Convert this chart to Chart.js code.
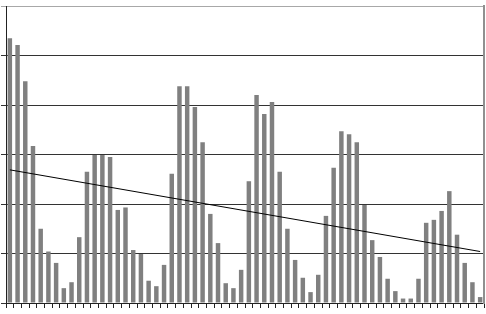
<!DOCTYPE html>
<html>
<head>
<meta charset="utf-8">
<script src="https://cdn.jsdelivr.net/npm/chart.js@4/dist/chart.umd.min.js"></script>
<style>
  html, body { margin: 0; padding: 0; background: #fff; }
  #chart { display: block; }
</style>
</head>
<body>
<canvas id="chart" width="486" height="314"></canvas>
<script>
// 62 periods, values (gridline step = 10)
const categories = [];
for (let i = 1; i <= 62; i++) categories.push(String(i));

const barValues = [
    53.5, 52.1, 44.8, 31.7, 15.0, 10.4, 8.1, 3.0, 4.2, 13.3,
    26.5, 29.9, 29.9, 29.5, 18.8, 19.3, 10.7, 9.9, 4.5, 3.4,
    7.7, 26.1, 43.8, 43.8, 39.6, 32.5, 18.0, 12.1, 4.0, 3.0,
    6.7, 24.6, 42.0, 38.2, 40.6, 26.5, 15.0, 8.7, 5.1, 2.2,
    5.7, 17.6, 27.3, 34.7, 34.1, 32.5, 19.8, 12.7, 9.3, 4.9,
    2.4, 0.9, 0.9, 4.9, 16.2, 16.8, 18.6, 22.6, 13.8, 8.1,
    4.2, 1.2
];

// trend line: only the two end points, the line spans between them
const trendValues = categories.map(() => null);
trendValues[0] = 26.9;
trendValues[61] = 10.4;

const yTicks = [0, 10, 20, 30, 40, 50, 60];

const ctx = document.getElementById('chart').getContext('2d');
new Chart(ctx, {
    type: 'bar',
    data: {
        labels: categories,
        datasets: [{
            type: 'line',
            data: trendValues,
            spanGaps: true,
            borderColor: '#000',
            borderWidth: 1,
            pointRadius: 0,
            fill: false,
            order: 0
        }, {
            data: barValues,
            backgroundColor: '#808080',
            borderWidth: 0,
            barPercentage: 0.58,
            categoryPercentage: 1,
            order: 1
        }]
    },
    options: {
        responsive: false,
        animation: false,
        layout: { padding: { left: 1, right: 2, top: 6, bottom: 6 } },
        plugins: { legend: { display: false }, tooltip: { enabled: false } },
        scales: {
            x: {
                offset: true,
                grid: { offset: true, drawOnChartArea: false, drawTicks: true, tickLength: 5, color: '#222' },
                border: { color: '#222', width: 1 },
                ticks: { display: false }
            },
            y: {
                min: yTicks[0],
                max: yTicks[yTicks.length - 1],
                afterBuildTicks: axis => { axis.ticks = yTicks.map(v => ({ value: v })); },
                grid: {
                    color: c => (c.tick && c.tick.value === 60 ? '#a8a8a8' : '#333'),
                    lineWidth: 1,
                    tickLength: 5
                },
                border: { color: '#222', width: 1 },
                ticks: { display: false }
            },
            y2: {
                position: 'right',
                min: 0,
                max: 60,
                grid: { drawOnChartArea: false, drawTicks: false },
                border: { color: '#909090', width: 2 },
                ticks: { display: false }
            }
        }
    }
});
</script>
</body>
</html>
